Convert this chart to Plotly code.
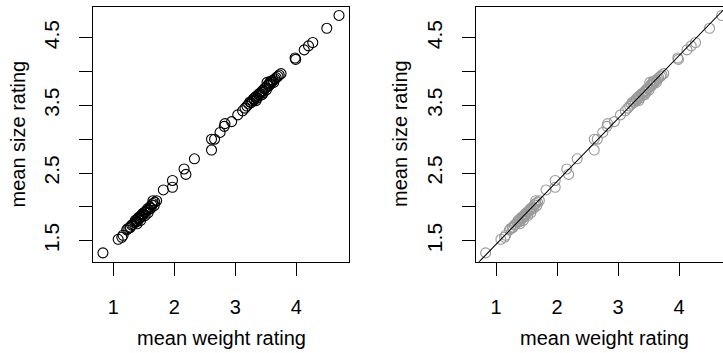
import plotly.graph_objects as go

# mean weight rating (x) and mean size rating (y)
weight = [0.83, 1.08, 1.14, 1.16, 1.22, 1.24, 1.27, 1.28, 1.30, 1.32,
          1.35, 1.36, 1.38, 1.39, 1.40, 1.41, 1.43, 1.44, 1.45, 1.46,
          1.47, 1.48, 1.50, 1.51, 1.52, 1.53, 1.55, 1.56, 1.57, 1.58,
          1.60, 1.62, 1.63, 1.65, 1.65, 1.67, 1.68, 1.71, 1.82, 1.97,
          1.97, 2.16, 2.19, 2.33, 2.61, 2.61, 2.66, 2.75, 2.82, 2.83,
          2.94, 3.04, 3.12, 3.16, 3.19, 3.22, 3.24, 3.26, 3.28, 3.30,
          3.31, 3.33, 3.34, 3.35, 3.36, 3.38, 3.40, 3.41, 3.43, 3.44,
          3.45, 3.46, 3.48, 3.50, 3.51, 3.52, 3.53, 3.55, 3.56, 3.58,
          3.58, 3.60, 3.62, 3.63, 3.65, 3.67, 3.70, 3.72, 3.75, 3.98,
          3.99, 4.13, 4.20, 4.27, 4.50, 4.70]
size = [1.32, 1.52, 1.55, 1.58, 1.66, 1.68, 1.69, 1.70, 1.73, 1.74,
        1.77, 1.80, 1.78, 1.75, 1.82, 1.84, 1.83, 1.86, 1.80, 1.85,
        1.88, 1.90, 1.89, 1.92, 1.87, 1.93, 1.95, 1.97, 1.91, 1.96,
        2.00, 1.98, 2.03, 2.05, 2.09, 2.02, 2.07, 2.09, 2.25, 2.39,
        2.29, 2.56, 2.48, 2.71, 3.00, 2.84, 3.00, 3.10, 3.19, 3.23,
        3.26, 3.36, 3.42, 3.46, 3.49, 3.52, 3.55, 3.54, 3.57, 3.60,
        3.58, 3.62, 3.57, 3.64, 3.61, 3.66, 3.68, 3.65, 3.70, 3.66,
        3.72, 3.69, 3.75, 3.76, 3.73, 3.84, 3.80, 3.79, 3.83, 3.82,
        3.86, 3.85, 3.87, 3.84, 3.89, 3.91, 3.93, 3.95, 3.97, 4.20,
        4.18, 4.32, 4.38, 4.43, 4.64, 4.83]

# fitted line (right panel)
fit_intercept = 0.515
fit_slope = 0.93

x_ticks = [1, 2, 3, 4]
y_ticks = [1.5, 2.0, 2.5, 3.0, 3.5, 4.0, 4.5]
y_ticklabels = ["1.5", "", "2.5", "", "3.5", "", "4.5"]

W, H = 723, 353
FONT = "Liberation Sans, Arial, Helvetica, sans-serif"

x_range_left = [0.672, 4.869]
x_range_right = [0.672, 0.672 + (W - 476) / 61.0]
y_range = [1.189, 4.959]

fig = go.Figure()
fig.add_trace(go.Scatter(
    x=weight, y=size, mode="markers", xaxis="x", yaxis="y",
    marker=dict(symbol="circle-open", size=10, color="black",
                line=dict(width=1.1, color="black")),
    showlegend=False, hoverinfo="skip"))
fig.add_trace(go.Scatter(
    x=weight, y=size, mode="markers", xaxis="x2", yaxis="y2",
    marker=dict(symbol="circle-open", size=10, color="#9a9a9a",
                line=dict(width=1.1, color="#9a9a9a")),
    showlegend=False, hoverinfo="skip"))
lx = [x_range_right[0], x_range_right[1]]
fig.add_trace(go.Scatter(
    x=lx, y=[fit_intercept + fit_slope * v for v in lx], mode="lines",
    xaxis="x2", yaxis="y2", line=dict(color="black", width=1.1),
    showlegend=False, hoverinfo="skip"))

y_dom = [(H - 261.7) / H, (H - 6.7) / H]

common_x = dict(tickmode="array", tickvals=x_ticks, ticks="outside", ticklen=13,
                tickwidth=1, tickcolor="black", showline=True, linecolor="black",
                linewidth=1, mirror=True, showgrid=False, zeroline=False,
                tickfont=dict(family=FONT, size=20, color="black"),
                ticklabelstandoff=14)
common_y = dict(tickmode="array", tickvals=y_ticks, ticktext=y_ticklabels,
                ticks="outside", ticklen=13, tickwidth=1, tickcolor="black",
                showline=True, linecolor="black", linewidth=1, showgrid=False,
                zeroline=False, tickangle=-90,
                tickfont=dict(family=FONT, size=21, color="black"),
                ticklabelstandoff=12, range=y_range, domain=y_dom)

fig.update_layout(
    width=W, height=H, margin=dict(l=0, r=0, t=0, b=0),
    paper_bgcolor="white", plot_bgcolor="white",
    xaxis=dict(domain=[93.3 / W, 349.3 / W], range=x_range_left, anchor="y", **common_x),
    yaxis=dict(anchor="x", mirror=True, **common_y),
    xaxis2=dict(domain=[476 / W, 1.0], range=x_range_right, anchor="y2", **common_x),
    yaxis2=dict(anchor="x2", mirror=False, **common_y),
    annotations=[
        dict(text="mean weight rating", x=221.3 / W, y=(H - 338) / H, xref="paper",
             yref="paper", showarrow=False, font=dict(family=FONT, size=20, color="black"),
             xanchor="center", yanchor="middle"),
        dict(text="mean weight rating", x=604 / W, y=(H - 338) / H, xref="paper",
             yref="paper", showarrow=False, font=dict(family=FONT, size=20, color="black"),
             xanchor="center", yanchor="middle"),
        dict(text="mean size rating", x=17.5 / W, y=(H - 134) / H, xref="paper",
             yref="paper", showarrow=False, textangle=-90,
             font=dict(family=FONT, size=20, color="black"),
             xanchor="center", yanchor="middle"),
        dict(text="mean size rating", x=400 / W, y=(H - 134) / H, xref="paper",
             yref="paper", showarrow=False, textangle=-90,
             font=dict(family=FONT, size=20, color="black"),
             xanchor="center", yanchor="middle"),
    ],
)

fig.write_html("out.html")
